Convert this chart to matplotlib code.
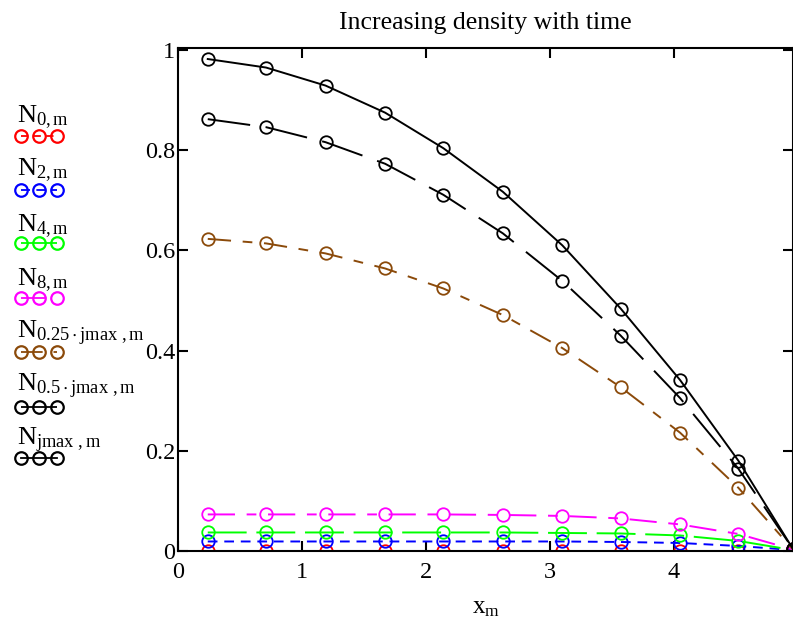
import matplotlib
matplotlib.use("Agg")
import matplotlib.pyplot as plt
from matplotlib.lines import Line2D

plt.rcParams['font.family'] = ['Liberation Serif', 'DejaVu Serif']
plt.rcParams['mathtext.fontset'] = 'custom'
plt.rcParams['mathtext.rm'] = 'Liberation Serif'
plt.rcParams['mathtext.it'] = 'Liberation Serif'
plt.rcParams['mathtext.default'] = 'regular'

# grid points x_m
x_m = [0.24, 0.71, 1.19, 1.67, 2.14, 2.62, 3.10, 3.57, 4.05, 4.52, 4.96]

# density profiles N_{j,m} at several times j
N_0 = [0.0, 0.0, 0.0, 0.0, 0.0, 0.0, 0.0, 0.0, 0.0, 0.0, 0.0]
N_2 = [0.019, 0.019, 0.019, 0.019, 0.019, 0.019, 0.019, 0.018, 0.016, 0.010, 0.002]
N_4 = [0.037, 0.037, 0.037, 0.037, 0.037, 0.037, 0.036, 0.035, 0.031, 0.020, 0.002]
N_8 = [0.073, 0.073, 0.073, 0.073, 0.073, 0.072, 0.070, 0.065, 0.053, 0.034, 0.003]
N_q = [0.623, 0.614, 0.594, 0.564, 0.524, 0.471, 0.405, 0.327, 0.236, 0.126, 0.003]
N_h = [0.862, 0.846, 0.816, 0.773, 0.711, 0.634, 0.539, 0.430, 0.305, 0.164, 0.004]
N_jmax = [0.982, 0.965, 0.929, 0.875, 0.804, 0.717, 0.610, 0.484, 0.341, 0.180, 0.004]

labels = [r'N$_{0, m}$', r'N$_{2, m}$', r'N$_{4, m}$', r'N$_{8, m}$',
          r'N$_{0.25\cdot jmax\ , m}$', r'N$_{0.5\cdot jmax\ , m}$', r'N$_{jmax\ , m}$']
series = [N_0, N_2, N_4, N_8, N_q, N_h, N_jmax]
colors = ['#ff0000', '#0000ff', '#00ff00', '#ff00ff', '#8b4a0a', 'black', 'black']
styles = [(0, (4, 3)), (0, (5, 3.5)), (0, (20, 5)), (0, (14, 6, 5, 6)),
          (0, (12, 6, 5, 6)), (0, (22, 8)), '-']

fig = plt.figure(figsize=(7.93, 6.31), dpi=100)
ax = fig.add_axes([178 / 793, 80 / 631, 615 / 793, 503 / 631])

for y, c, ls in zip(series, colors, styles):
    ax.plot(x_m, y, color=c, linestyle=ls, linewidth=1.4, marker='o',
            markersize=9, markerfacecolor='none', markeredgecolor=c,
            markeredgewidth=1.3)

ax.set_xlim(0, 4.96)
ax.set_ylim(0, 1.004)
ax.set_xticks([0, 1, 2, 3, 4])
ax.set_yticks([0, 0.2, 0.4, 0.6, 0.8, 1])
ax.set_yticklabels(['0', '0.2', '0.4', '0.6', '0.8', '1'])
ax.tick_params(direction='in', length=7, width=1.5, labelsize=17.5,
               top=True, right=True)
ax.tick_params(axis='y', pad=2)
ax.tick_params(axis='x', pad=8)
for s in ax.spines.values():
    s.set_linewidth(1.5)

ax.set_title('Increasing density with time', fontsize=18.5, pad=14)
ax.set_xlabel(r'x$_{m}$', fontsize=18, labelpad=10)

# Mathcad-style legend at left: label above a three-circle sample
label_y = [117, 170, 226, 280, 333, 386, 440]
sample_y = [136, 190, 243, 298, 352, 407, 458]
W, H = 793.0, 631.0
for lab, c, ls, ly, sy in zip(labels, colors, styles, label_y, sample_y):
    fig.text(17 / W, 1 - ly / H, lab, fontsize=19, ha='left', va='center')
    fig.add_artist(Line2D([21 / W, 39 / W, 57 / W], [1 - sy / H] * 3,
                          color=c, linestyle=ls, linewidth=1.3, marker='o',
                          markersize=9, markerfacecolor='none',
                          markeredgecolor=c, markeredgewidth=1.6,
                          transform=fig.transFigure))

fig.savefig('out.png', dpi=100)
